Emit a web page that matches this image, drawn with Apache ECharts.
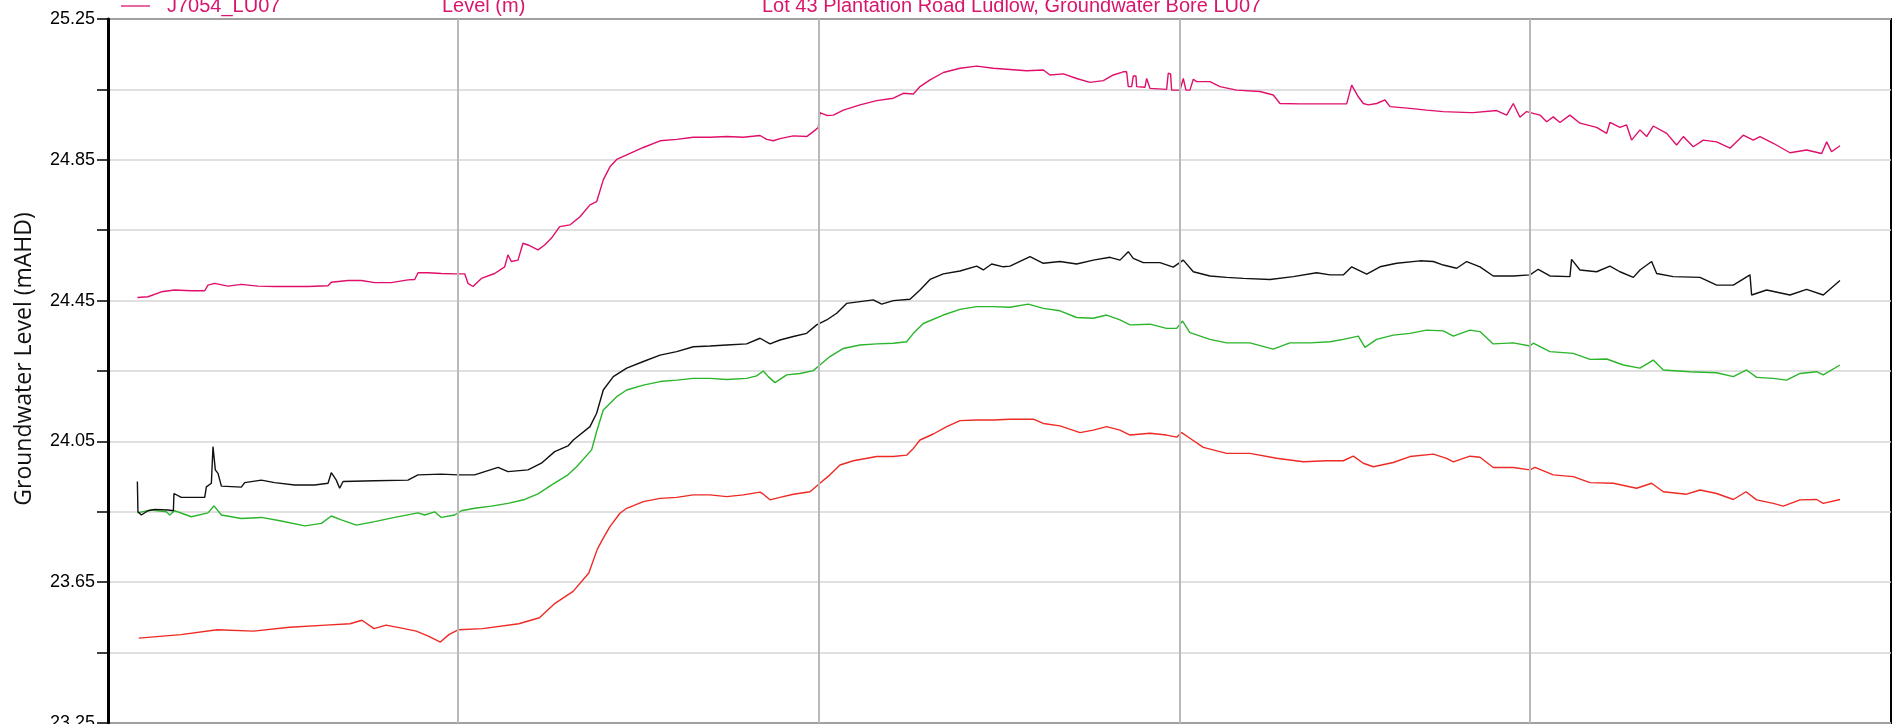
<!DOCTYPE html>
<html>
<head>
<meta charset="utf-8">
<script src="https://cdn.jsdelivr.net/npm/echarts@6/dist/echarts.min.js"></script>
<style>
html,body{margin:0;padding:0;background:#fff;}
#chart{width:1892px;height:724px;}
</style>
</head>
<body>
<div id="chart"></div>
<script>
// x values are days from the start of the record (month boundaries mark the vertical grid)
const monthBoundaries = [30, 61, 92, 122];
const xMax = 153;
const yTickLabels = ['23.25', '23.65', '24.05', '24.45', '24.85', '25.25'];
const legendName = 'J7054_LU07';
const headerTexts = ['Level (m)', 'Lot 43 Plantation Road Ludlow, Groundwater Bore LU07'];
const yTitle = 'Groundwater Level (mAHD)';

// [day, level mAHD]
const magentaLU07 = [
[2.52,24.459],[3.43,24.461],[4.58,24.475],[5.72,24.480],[7.15,24.478],[8.30,24.478],[8.58,24.494],[9.15,24.499],[10.30,24.491],[11.44,24.496],[12.87,24.491],[14.30,24.490],[15.73,24.490],[17.16,24.490],[18.88,24.492],[19.16,24.502],[20.59,24.507],[21.74,24.507],[22.88,24.501],[24.31,24.501],[25.74,24.509],[26.32,24.510],[26.60,24.529],[27.46,24.529],[28.60,24.527],[29.75,24.526],[30.61,24.526],[30.89,24.499],[31.32,24.490],[32.04,24.513],[33.18,24.527],[34.04,24.546],[34.32,24.580],[34.61,24.561],[35.18,24.565],[35.61,24.613],[36.04,24.608],[36.90,24.594],[37.47,24.608],[38.04,24.627],[38.76,24.660],
[39.64,24.665],[40.50,24.688],[41.36,24.722],[41.93,24.731],[42.50,24.793],[43.07,24.830],[43.65,24.851],[44.51,24.864],[45.94,24.885],[47.37,24.904],[48.80,24.908],[50.23,24.914],[51.66,24.914],[53.09,24.916],[54.52,24.914],[55.95,24.919],[56.52,24.908],[57.09,24.904],[57.66,24.910],[58.81,24.918],[59.95,24.916],[60.52,24.930],[60.95,24.942],[61.09,24.984],[61.67,24.976],[62.24,24.977],[63.10,24.991],[64.53,25.006],[65.96,25.018],[67.39,25.025],[68.25,25.039],[69.11,25.037],[69.68,25.058],[70.54,25.077],[71.68,25.098],[73.11,25.110],[74.54,25.116],[75.97,25.110],
[78.83,25.103],[80.26,25.105],[80.83,25.091],[81.98,25.094],[83.12,25.081],[84.26,25.070],[85.41,25.075],[86.27,25.091],[87.12,25.100],[87.41,25.100],[87.55,25.058],[87.84,25.058],[87.98,25.088],[88.21,25.088],[88.27,25.058],[88.98,25.056],[89.13,25.081],[89.30,25.081],[89.41,25.053],[90.84,25.050],[90.98,25.096],[91.18,25.094],[91.27,25.048],[91.99,25.048],[92.27,25.081],[92.50,25.048],[92.84,25.048],[93.13,25.079],[93.42,25.072],[94.56,25.072],[95.42,25.058],[96.85,25.048],[98.85,25.044],[99.99,25.034],[100.57,25.010],[102.28,25.009],[104.57,25.009],[106.29,25.009],[106.72,25.062],[107.29,25.029],[107.72,25.010],[108.15,25.006],[108.86,25.010],[109.58,25.020],[110.01,25.001],[111.72,24.996],[113.15,24.991],[114.58,24.987],[116.87,24.984],
[117.16,24.984],[119.16,24.990],[120.02,24.977],[120.59,25.010],[121.16,24.971],[121.73,24.987],[122.88,24.977],[123.45,24.958],[124.02,24.972],[124.59,24.956],[125.45,24.977],[126.31,24.954],[127.74,24.942],[128.60,24.925],[128.88,24.956],[129.74,24.942],[130.31,24.949],[130.74,24.906],[131.46,24.935],[132.03,24.916],[132.60,24.946],[133.75,24.925],[134.60,24.892],[135.18,24.916],[136.03,24.887],[136.89,24.906],[138.04,24.901],[139.18,24.883],[140.32,24.920],[141.18,24.906],[141.76,24.916],[142.90,24.897],[144.33,24.870],[145.76,24.878],[147.05,24.868],[147.48,24.901],[147.90,24.873],[148.62,24.890]
];

const blackSeries = [
[2.52,23.936],[2.57,23.850],[2.86,23.841],[3.43,23.853],[4.00,23.857],[5.15,23.855],[5.61,23.853],[5.66,23.902],[6.29,23.891],[8.30,23.891],[8.44,23.921],[8.87,23.931],[9.01,24.035],[9.21,23.969],[9.44,23.959],[9.73,23.923],[11.44,23.920],[11.73,23.933],[13.16,23.940],[14.30,23.933],[16.02,23.926],[17.73,23.926],[18.88,23.931],[19.16,23.961],[19.59,23.940],[19.88,23.917],[20.17,23.936],[22.88,23.938],[25.74,23.940],[26.60,23.955],[28.60,23.957],[30.03,23.955],[31.46,23.955],[33.47,23.976],[34.32,23.964],[36.04,23.969],[37.19,23.988],[38.33,24.021],[39.47,24.037],
[39.93,24.054],[41.36,24.092],[41.93,24.130],[42.50,24.196],[43.36,24.234],[44.51,24.258],[45.94,24.277],[47.37,24.295],[48.80,24.305],[50.23,24.319],[51.66,24.321],[53.09,24.324],[54.80,24.327],[55.95,24.343],[56.81,24.327],[57.66,24.338],[58.81,24.348],[59.95,24.357],[60.81,24.381],[61.67,24.395],[62.53,24.414],[63.38,24.442],[64.53,24.447],[65.67,24.452],[66.39,24.440],[67.39,24.450],[68.82,24.454],[69.68,24.480],[70.54,24.510],[71.68,24.526],[73.11,24.534],[74.54,24.548],[75.11,24.537],[75.83,24.554],[76.83,24.546],
[77.40,24.548],[79.12,24.575],[80.26,24.556],[81.69,24.561],[83.12,24.554],[84.55,24.565],[85.98,24.573],[86.84,24.565],[87.55,24.589],[87.98,24.570],[88.84,24.558],[90.27,24.558],[91.41,24.545],[92.27,24.565],[93.13,24.532],[94.56,24.520],[95.99,24.516],[97.42,24.513],[99.71,24.510],[101.71,24.518],[103.71,24.529],[104.86,24.523],[106.00,24.523],[106.72,24.546],[108.01,24.525],[109.15,24.546],[110.58,24.556],[112.58,24.563],[113.73,24.561],[114.58,24.551],[115.73,24.542],[116.59,24.561],
[117.73,24.546],[118.87,24.520],[120.59,24.520],[122.02,24.523],[122.73,24.539],[123.73,24.520],[125.45,24.518],[125.59,24.567],[126.31,24.537],[127.74,24.532],[128.88,24.548],[129.74,24.532],[130.89,24.516],[131.46,24.537],[132.46,24.561],[132.89,24.527],[134.32,24.518],[136.61,24.516],[138.04,24.494],[139.47,24.494],[140.90,24.523],[141.04,24.466],[142.33,24.480],[144.33,24.466],[145.76,24.482],[147.19,24.466],[148.62,24.507]
];

const greenSeries = [
[2.52,23.847],[3.72,23.855],[5.01,23.850],[5.29,23.841],[5.72,23.853],[7.15,23.836],[8.58,23.847],[9.10,23.867],[9.73,23.841],[11.44,23.831],[13.16,23.834],[14.87,23.824],[16.88,23.810],[18.31,23.817],[19.16,23.838],[20.02,23.827],[21.31,23.812],[22.88,23.822],[24.60,23.834],[26.60,23.847],[27.17,23.841],[28.03,23.850],[28.60,23.834],[29.75,23.841],[30.32,23.853],[31.46,23.860],[32.89,23.866],[34.32,23.874],[35.76,23.885],[36.90,23.901],[38.04,23.926],[39.47,23.955],
[40.21,23.978],[41.50,24.026],[41.93,24.078],[42.50,24.139],[43.65,24.177],[44.51,24.196],[45.94,24.210],[47.37,24.220],[48.80,24.224],[50.23,24.229],[51.66,24.229],[53.09,24.226],[54.80,24.229],[55.66,24.236],[56.23,24.250],[56.66,24.234],[57.23,24.217],[58.24,24.239],[59.38,24.243],[60.52,24.251],[61.09,24.267],[61.95,24.291],[63.10,24.314],[64.53,24.324],[65.96,24.327],[67.39,24.329],[68.53,24.333],[69.11,24.357],[69.96,24.385],[71.68,24.409],[73.11,24.425],[74.54,24.433],[75.97,24.433],
[77.40,24.431],[78.97,24.440],[80.26,24.428],[81.69,24.421],[83.12,24.402],[84.55,24.400],[85.69,24.409],[86.84,24.395],[87.70,24.381],[89.41,24.383],[90.84,24.371],[91.70,24.371],[92.21,24.392],[92.84,24.359],[94.56,24.340],[95.99,24.330],[97.99,24.330],[99.99,24.312],[101.42,24.330],[103.14,24.330],[104.86,24.333],[106.00,24.340],[107.29,24.349],[107.86,24.317],[108.86,24.340],[110.29,24.352],[111.72,24.357],[113.15,24.366],[114.58,24.364],[115.44,24.349],[116.87,24.366],
[117.73,24.362],[118.87,24.327],[120.59,24.330],[122.02,24.321],[122.30,24.329],[123.73,24.305],[125.74,24.300],[127.17,24.283],[128.60,24.284],[130.03,24.267],[131.46,24.258],[132.60,24.281],[133.46,24.253],[135.75,24.248],[138.04,24.245],[139.47,24.234],[140.61,24.253],[141.47,24.232],[142.90,24.229],[144.04,24.224],[145.19,24.243],[146.62,24.248],[147.19,24.239],[148.62,24.267]
];

const redSeries = [
[2.64,23.491],[6.26,23.501],[9.37,23.515],[12.48,23.511],[15.58,23.522],[18.69,23.528],[20.76,23.532],[21.79,23.542],[22.83,23.518],[23.86,23.528],[25.42,23.518],[26.45,23.511],[27.49,23.497],[28.52,23.480],[29.25,23.501],[30.08,23.515],[32.14,23.518],[35.25,23.532],[37.02,23.549],[38.36,23.590],[39.91,23.624],[41.26,23.676],[41.99,23.744],[42.50,23.775],[43.07,23.808],[43.93,23.846],[44.51,23.860],[45.94,23.879],[47.37,23.888],[48.80,23.891],[50.23,23.898],[51.66,23.898],[53.09,23.893],[54.52,23.898],[55.95,23.906],[56.23,23.900],[56.81,23.884],[57.66,23.891],[58.81,23.900],[60.24,23.907],[61.09,23.931],[61.95,23.955],[62.81,23.983],[63.96,23.995],[65.96,24.007],[67.39,24.007],[68.53,24.011],[69.11,24.030],[69.68,24.054],[70.82,24.071],[71.97,24.092],[73.11,24.109],[74.54,24.111],[75.97,24.111],
[77.40,24.113],[79.40,24.113],[80.26,24.101],[81.69,24.094],[83.41,24.075],[84.55,24.082],[85.69,24.092],[86.84,24.082],[87.70,24.068],[89.41,24.073],[90.84,24.068],[91.70,24.062],[92.13,24.075],[92.84,24.059],[93.99,24.033],[95.99,24.016],[97.99,24.016],[100.28,24.002],[102.57,23.992],[104.57,23.995],[106.00,23.995],[106.86,24.008],[107.72,23.988],[108.58,23.978],[110.29,23.990],[111.72,24.007],[113.73,24.014],[114.87,24.002],[115.44,23.992],[116.87,24.008],
[117.73,24.005],[118.87,23.976],[120.59,23.976],[122.02,23.969],[122.45,23.976],[124.02,23.955],[125.74,23.950],[127.17,23.933],[129.17,23.931],[131.17,23.917],[132.46,23.931],[133.46,23.907],[135.46,23.900],[136.61,23.912],[138.04,23.902],[139.47,23.885],[140.56,23.907],[141.47,23.884],[142.90,23.874],[143.76,23.866],[145.19,23.884],[146.62,23.885],[147.19,23.874],[148.62,23.885]
];

const MAGENTA = '#df0f6b';
const TEXT_MAGENTA = '#d8166e';

function lineSeries(name, data, color) {
  return {
    name: name, type: 'line', data: data, symbol: 'none', showSymbol: false,
    lineStyle: { color: color, width: 1.4 }, itemStyle: { color: color },
    z: 3, silent: true, animation: false
  };
}

const chart = echarts.init(document.getElementById('chart'), null, { renderer: 'canvas' });
chart.setOption({
  backgroundColor: '#ffffff',
  animation: false,
  grid: {
    left: 108, right: 1, top: 19, bottom: 1, containLabel: false, outerBoundsMode: 'none',
    show: true, borderColor: '#000', borderWidth: 2, backgroundColor: 'transparent'
  },
  xAxis: {
    type: 'value', min: 0, max: xMax,
    axisLine: { show: false }, axisTick: { show: false }, axisLabel: { show: false }, splitLine: { show: false }
  },
  yAxis: {
    type: 'value', min: 23.25, max: 25.25, interval: 0.2,
    axisLine: { show: true, lineStyle: { color: '#000', width: 3 } },
    axisTick: { show: true, length: 11, lineStyle: { color: '#000', width: 1.5 } },
    axisLabel: {
      margin: 13, fontFamily: '"Liberation Sans", Arial, sans-serif', fontSize: 18, color: '#000', padding: [0, 0, 4, 0],
      formatter: function (v) { const s = v.toFixed(2); return yTickLabels.indexOf(s) >= 0 ? s : ''; }
    },
    splitLine: { show: true, lineStyle: { color: '#d6d6d6', width: 1.5 } }
  },
  series: [
    {
      type: 'line', data: [], z: 1, silent: true, animation: false,
      markLine: {
        silent: true, symbol: ['none', 'none'], animation: false,
        label: { show: false },
        lineStyle: { color: '#b9b9b9', width: 2, type: 'solid' },
        emphasis: { disabled: true },
        data: monthBoundaries.map(function (d) { return { xAxis: d }; })
      }
    },
    lineSeries('red', redSeries, '#ee2a24'),
    lineSeries('green', greenSeries, '#2bb52b'),
    lineSeries('black', blackSeries, '#111111'),
    lineSeries(legendName, magentaLU07, MAGENTA)
  ],
  graphic: [
    { type: 'line', shape: { x1: 121, y1: 6, x2: 150, y2: 6 }, style: { stroke: TEXT_MAGENTA, lineWidth: 1.3 }, z: 10 },
    { type: 'text', x: 167, y: 6, style: { text: legendName, fill: TEXT_MAGENTA, font: '20px "Liberation Sans", Arial, sans-serif', verticalAlign: 'middle' }, z: 10 },
    { type: 'text', x: 442, y: 6, style: { text: headerTexts[0], fill: TEXT_MAGENTA, font: '20px "Liberation Sans", Arial, sans-serif', verticalAlign: 'middle' }, z: 10 },
    { type: 'text', x: 762, y: 6, style: { text: headerTexts[1], fill: TEXT_MAGENTA, font: '20px "Liberation Sans", Arial, sans-serif', verticalAlign: 'middle' }, z: 10 },
    { type: 'text', x: 24, y: 359, rotation: Math.PI / 2, style: { text: yTitle, fill: '#111', font: '23px "Open Sans", sans-serif', align: 'center', verticalAlign: 'middle' }, z: 10 }
  ]
});
</script>
</body>
</html>
